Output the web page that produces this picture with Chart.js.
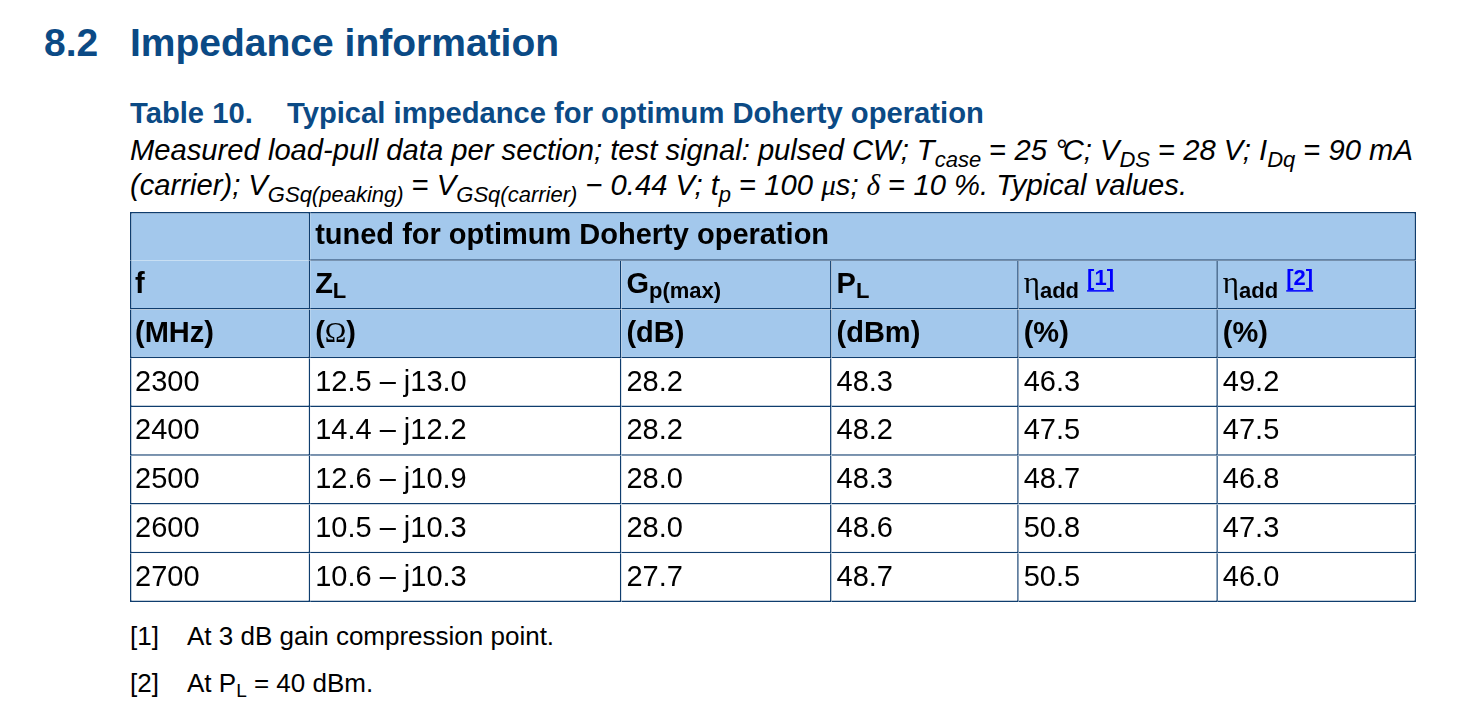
<!DOCTYPE html>
<html>
<head>
<meta charset="utf-8">
<script src="https://cdn.jsdelivr.net/npm/chart.js@4.4.1/dist/chart.umd.min.js"></script>
<style>
    body { margin: 0; background: #fff; font-family: "Liberation Sans", Arial, sans-serif; }
    #page { position: relative; width: 1471px; height: 708px; overflow: hidden; }
    .abs { position: absolute; white-space: nowrap; line-height: 1; }
    .blue { color: #0b4a85; font-weight: bold; }
    .cap { font-style: italic; font-size: 29.2px; color: #000; }
    .sb { font-size: 22px; position: relative; top: 7px; }
    .up { font-style: normal; }
    .gk { font-family: "Liberation Serif", serif; }
    .note { font-size: 26px; color: #000; }
    #tableBox { position: absolute; left: 130px; top: 212px; width: 1286px; height: 390px; }
</style>
</head>
<body>
<div id="page">
    <div class="abs blue" style="left:44px; top:23px; font-size:39px;">8.2</div>
    <div class="abs blue" style="left:130px; top:23px; font-size:39px;">Impedance information</div>

    <div class="abs blue" style="left:130px; top:99px; font-size:29.2px;">Table 10.</div>
    <div class="abs blue" style="left:287px; top:99px; font-size:29.2px;">Typical impedance for optimum Doherty operation</div>

    <div class="abs cap" style="left:130px; top:136px;">Measured load-pull data per section; test signal: pulsed CW; T<span class="sb">case</span> <span class="up">=</span> 25 <span style="letter-spacing:-4px">°</span>C; V<span class="sb">DS</span> <span class="up">=</span> 28 V; I<span class="sb">Dq</span> <span class="up">=</span> 90 mA</div>
    <div class="abs cap" style="left:130px; top:171px;">(carrier); V<span class="sb">GSq(peaking)</span> <span class="up">=</span> V<span class="sb">GSq(carrier)</span> <span class="up">&minus;</span> 0.44 V; t<span class="sb">p</span> <span class="up">=</span> 100 <span class="gk">&mu;</span>s; <span class="gk">&delta;</span> <span class="up">=</span> 10 %. Typical values.</div>

    <div id="tableBox"><canvas id="impedanceTable"></canvas></div>

    <div class="abs note" style="left:130px; top:623px;">[1]</div>
    <div class="abs note" style="left:187px; top:623px;">At 3 dB gain compression point.</div>
    <div class="abs note" style="left:130px; top:670px;">[2]</div>
    <div class="abs note" style="left:187px; top:670px;">At P<span class="sb" style="font-size:19px;top:5px;">L</span> = 40 dBm.</div>
</div>

<script>
// Table values (Table 10, typical values)
const freqs = ["2300", "2400", "2500", "2600", "2700"];
const loadImpedance = ["12.5 \u2013 j13.0", "14.4 \u2013 j12.2", "12.6 \u2013 j10.9", "10.5 \u2013 j10.3", "10.6 \u2013 j10.3"];
const gainMax = ["28.2", "28.2", "28.0", "28.0", "27.7"];
const loadPower = ["48.3", "48.2", "48.3", "48.6", "48.7"];
const effAtCompression = ["46.3", "47.5", "48.7", "50.8", "50.5"];
const effAt40dBm = ["49.2", "47.5", "46.8", "47.3", "46.0"];

// Header texts
const groupTitle = "tuned for optimum Doherty operation";
const unitLabels = ["(MHz)", "(\u03A9)", "(dB)", "(dBm)", "(%)", "(%)"];

// Layout / style
const colWidths = [180, 311, 210, 187, 199, 198];
const headerRows = 3;
const headFill = "#a3c8ec";
const lineColor = "#0f3d6e";
const fontSize = 29;
const sansFont = '"Liberation Sans", Arial, sans-serif';
const serifFont = '"Liberation Serif", serif';

// Rich text runs for each cell
function txt(t, opts) { return Object.assign({t: t}, opts || {}); }
const bold = {bold: true};
const sub = {bold: true, size: 22, dy: 5};
const noteRef = {bold: true, size: 22, dy: -8, color: "#0000ff", underline: true};

const symbolRow = [
    [txt("f", bold)],
    [txt("Z", bold), txt("L", sub)],
    [txt("G", bold), txt("p(max)", sub)],
    [txt("P", bold), txt("L", sub)],
    [txt("\u03B7", {serif: true, size: 31}), txt("add", sub), txt(" "), txt("[1]", noteRef)],
    [txt("\u03B7", {serif: true, size: 31}), txt("add", sub), txt(" "), txt("[2]", noteRef)]
];
const unitRow = unitLabels.map(function(u) {
    if (u.indexOf("\u03A9") >= 0) {
        return [txt("(", bold), txt("\u03A9", {serif: true}), txt(")", bold)];
    }
    return [txt(u, bold)];
});

const cellRuns = [
    [null, [txt(groupTitle, bold)], null, null, null, null],
    symbolRow,
    unitRow
];
for (let i = 0; i < freqs.length; i++) {
    cellRuns.push([freqs[i], loadImpedance[i], gainMax[i], loadPower[i], effAtCompression[i], effAt40dBm[i]].map(function(v) {
        return [txt(v)];
    }));
}

const rowLabels = ["group", "symbol", "unit"].concat(freqs);
const groupWidth = colWidths.slice(1).reduce(function(a, b) { return a + b; }, 0);
const totalWidth = colWidths[0] + groupWidth;

// One stacked dataset per column; each bar segment is a table cell
const datasets = colWidths.map(function(w, c) {
    return {
        label: "col" + c,
        data: rowLabels.map(function(_, r) {
            if (r === 0) { return c === 0 ? w : (c === 1 ? groupWidth : 0); }
            return w;
        }),
        backgroundColor: function(ctx) { return ctx.dataIndex < headerRows ? headFill : "#ffffff"; },
        borderColor: lineColor,
        borderWidth: function(ctx) {
            const r = ctx.dataIndex;
            return {
                left: c === 0 ? 1.5 : 0,
                top: r === 0 ? 1.5 : 0,
                right: 1.5,
                bottom: (r === 0 && c === 0) ? 0 : 1.5
            };
        },
        borderSkipped: false,
        inflateAmount: 0,
        barPercentage: 1,
        categoryPercentage: 1
    };
});

function drawRuns(ctx, runs, x, baseline) {
    runs.forEach(function(run) {
        const size = run.size || fontSize;
        ctx.font = (run.bold ? "bold " : "") + size + "px " + (run.serif ? serifFont : sansFont);
        ctx.fillStyle = run.color || "#000";
        const y = baseline + (run.dy || 0);
        ctx.fillText(run.t, x, y);
        const w = ctx.measureText(run.t).width;
        if (run.underline) {
            ctx.fillRect(x, y + 5, w, 1.5);
        }
        x += w;
    });
}

const cellTextPlugin = {
    id: "cellText",
    afterDatasetsDraw: function(chart) {
        const ctx = chart.ctx;
        ctx.save();
        ctx.textBaseline = "alphabetic";
        ctx.textAlign = "left";
        chart.data.datasets.forEach(function(ds, c) {
            const meta = chart.getDatasetMeta(c);
            meta.data.forEach(function(bar, r) {
                const runs = cellRuns[r][c];
                if (!runs) { return; }
                const p = bar.getProps(["base", "y"], true);
                drawRuns(ctx, runs, p.base + 5, p.y + 8);
            });
        });
        ctx.restore();
    }
};

new Chart(document.getElementById("impedanceTable"), {
    type: "bar",
    data: { labels: rowLabels, datasets: datasets },
    options: {
        indexAxis: "y",
        responsive: true,
        maintainAspectRatio: false,
        animation: false,
        layout: { padding: 0 },
        events: [],
        plugins: { legend: { display: false }, tooltip: { enabled: false } },
        scales: {
            x: { type: "linear", stacked: true, display: false, min: 0, max: totalWidth },
            y: { type: "category", stacked: true, display: false }
        }
    },
    plugins: [cellTextPlugin]
});
</script>
</body>
</html>
